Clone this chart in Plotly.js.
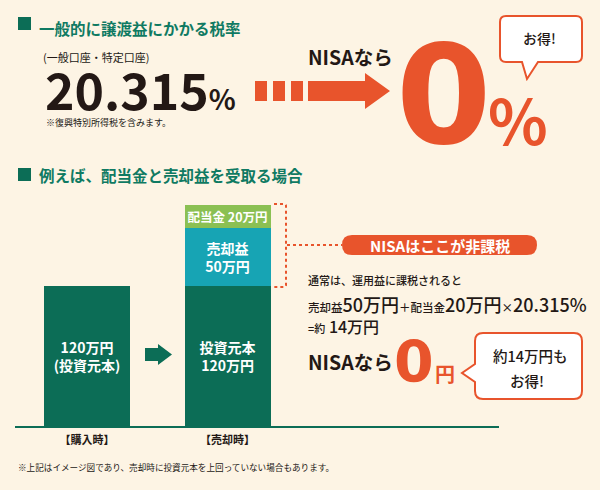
<!DOCTYPE html>
<html>
<head>
<meta charset="utf-8">
<script src="https://cdn.plot.ly/plotly-3.0.1.min.js"></script>
<style>html,body{margin:0;padding:0;background:#fdf4e4;}#chart{width:600px;height:490px;}</style>
</head>
<body>
<div id="chart"></div>
<script>
// ---- data ----
const categories = ['購入時', '売却時'];
const tickLabels = ['【購入時】', '【売却時】'];
const principal = [120, 120];      // 投資元本 (万円)
const capitalGain = [0, 50];       // 売却益 (万円)
const dividend = [0, 20];          // 配当金 (万円)
const principalText = ['120万円<br>(投資元本)', '投資元本<br>120万円'];
const gainText = ['', '売却益<br>50万円'];
const dividendText = ['', '配当金 20万円'];
const taxRate = 20.315;            // %
const nisaRate = 0;                // %

// ---- styling ----
const BG = '#fdf4e4', GREEN = '#0c6d56', GREEN_T = '#0f7a62', TEAL = '#17a4b4', LGREEN = '#8bc053',
      ORANGE = '#e8542c', DARK = '#231815';
const JP = '"Noto Sans CJK JP", "Noto Sans", sans-serif';
const W = 600, H = 490;
const X = x => x / W, Y = y => 1 - y / H;
const P = (x, y) => X(x).toFixed(5) + ',' + Y(y).toFixed(5);
function pathFrom(cmds) {
  return cmds.map(c => {
    if (c[0] === 'Z') return 'Z';
    if (c[0] === 'Q') return 'Q' + P(c[1], c[2]) + ' ' + P(c[3], c[4]);
    return c[0] + P(c[1], c[2]);
  }).join(' ');
}

const taxAmount = Math.round((capitalGain[1] + dividend[1]) * taxRate / 100);

const barCommon = {
  type: 'bar', x: categories, width: [0.612, 0.612],
  textposition: 'inside', insidetextanchor: 'middle', constraintext: 'none', textangle: 0,
  textfont: {family: JP, color: '#ffffff', size: 14, weight: 700},
  hoverinfo: 'skip', showlegend: false
};
const traces = [
  Object.assign({}, barCommon, {name: '投資元本', y: principal, text: principalText, marker: {color: GREEN, line: {width: 0}}}),
  Object.assign({}, barCommon, {name: '売却益', y: capitalGain, text: gainText, marker: {color: TEAL, line: {width: 0}}}),
  Object.assign({}, barCommon, {name: '配当金', y: dividend, text: dividendText, textfont: {family: JP, color: '#ffffff', size: 12.5, weight: 700}, marker: {color: LGREEN, line: {width: 0}}})
];

const shapes = [];
const rect = (x0, y0, x1, y1, color) => shapes.push({type: 'rect', xref: 'paper', yref: 'paper',
  x0: X(x0), x1: X(x1), y0: Y(y1), y1: Y(y0), fillcolor: color, line: {width: 0}, layer: 'above'});
const path = (cmds, fill, line) => shapes.push({type: 'path', xref: 'paper', yref: 'paper', path: pathFrom(cmds),
  fillcolor: fill, line: line || {width: 0}, layer: 'above'});

// section header squares
rect(18, 17, 31, 30, GREEN);
rect(18, 168, 31, 181, GREEN);
// dashed arrow (top)
rect(255, 81, 267, 101, ORANGE);
rect(273, 81, 285, 101, ORANGE);
rect(291, 81, 303, 101, ORANGE);
path([['M', 308, 81], ['L', 365, 81], ['L', 365, 73], ['L', 390, 91], ['L', 365, 109], ['L', 365, 101], ['L', 308, 101], ['Z']], ORANGE);
// top bubble
path([['M', 506, 16], ['L', 576, 16], ['Q', 582, 16, 582, 22], ['L', 582, 56], ['Q', 582, 62, 576, 62],
      ['L', 538, 62], ['L', 527, 79], ['L', 522, 62], ['L', 506, 62], ['Q', 500, 62, 500, 56], ['L', 500, 22],
      ['Q', 500, 16, 506, 16], ['Z']], '#ffffff', {color: ORANGE, width: 2});
// small green arrow between bars
path([['M', 145, 348], ['L', 158, 348], ['L', 158, 344], ['L', 172, 354.5], ['L', 158, 365], ['L', 158, 361], ['L', 145, 361], ['Z']], GREEN);
// dotted bracket
path([['M', 274, 204], ['L', 284, 204], ['Q', 286, 204, 286, 206], ['L', 286, 285], ['Q', 286, 287, 284, 287], ['L', 274, 287]],
     'rgba(0,0,0,0)', {color: ORANGE, width: 2, dash: 'dot'});
path([['M', 287, 245], ['L', 342, 245]], 'rgba(0,0,0,0)', {color: ORANGE, width: 2, dash: 'dot'});
// pill
path([['M', 352, 235], ['L', 527, 235], ['Q', 537, 235, 537, 245], ['Q', 537, 255, 527, 255], ['L', 352, 255],
      ['Q', 342, 255, 342, 245], ['Q', 342, 235, 352, 235], ['Z']], ORANGE);
// bottom bubble
path([['M', 483, 333], ['L', 574, 333], ['Q', 582, 333, 582, 341], ['L', 582, 391], ['Q', 582, 399, 574, 399],
      ['L', 483, 399], ['Q', 475, 399, 475, 391], ['L', 475, 382], ['L', 462, 373], ['L', 475, 364], ['L', 475, 341],
      ['Q', 475, 333, 483, 333], ['Z']], '#ffffff', {color: ORANGE, width: 2});

const annotations = [];
const note = (x, y, text, size, color, opts) => annotations.push(Object.assign({
  xref: 'paper', yref: 'paper', x: X(x), y: Y(y), text: text, showarrow: false,
  xanchor: 'left', yanchor: 'middle', align: 'left'
}, opts || {}, {font: {family: (opts && opts.family) || JP, size: size, color: color, weight: (opts && opts.weight) || 400}}));

note(37, 28, '一般的に譲渡益にかかる税率', 15.5, GREEN_T, {weight: 700});
note(41, 57, '(一般口座・特定口座)', 11, DARK);
note(43, 88, taxRate.toFixed(3) + '<span style="font-size:28px">%</span>', 50, DARK, {weight: 700});
note(44, 122, '※復興特別所得税を含みます。', 9, DARK);
note(306, 56, 'NISAなら', 19.5, DARK, {weight: 700});
note(443, 95, String(nisaRate), 137, ORANGE, {weight: 700, family: '"DejaVu Sans", sans-serif', xanchor: 'center'});
note(518, 118, '%', 62, ORANGE, {weight: 700, xanchor: 'center'});
note(539, 38, 'お得!', 14, DARK, {xanchor: 'center', weight: 500});

note(37, 175, '例えば、配当金と売却益を受取る場合', 15.5, GREEN_T, {weight: 700});
note(439.5, 245, 'NISAはここが非課税', 15, '#ffffff', {weight: 700, xanchor: 'center'});
note(306, 280, '通常は、運用益に課税されると', 11, DARK, {weight: 500});
note(306, 304, '売却益<span style="font-size:18px">' + capitalGain[1] + '万円</span>＋配当金<span style="font-size:18px">' +
     dividend[1] + '万円</span>×<span style="font-size:18px">' + taxRate.toFixed(3) + '%</span>', 11.5, DARK, {weight: 500});
note(306, 326, '=約<span style="font-size:16px"> ' + taxAmount + '万円</span>', 11, DARK, {weight: 500});
note(306, 361, 'NISAなら', 19.5, DARK, {weight: 700});
note(414, 362, '0', 57, ORANGE, {weight: 700, family: '"DejaVu Sans", sans-serif', xanchor: 'center'});
note(445, 373, '円', 20, ORANGE, {weight: 700, xanchor: 'center'});
note(530, 355, '約' + taxAmount + '万円も', 14.5, DARK, {xanchor: 'center', weight: 500});
note(527, 380, 'お得!', 14.5, DARK, {xanchor: 'center', weight: 500});
note(16, 467, '※上記はイメージ図であり、売却時に投資元本を上回っていない場合もあります。', 8.6, DARK);

const layout = {
  width: W, height: H, margin: {l: 0, r: 0, t: 0, b: 0, pad: 0},
  paper_bgcolor: BG, plot_bgcolor: 'rgba(0,0,0,0)',
  barmode: 'stack', bargap: 0,
  font: {family: JP, color: DARK},
  xaxis: {domain: [X(15), X(499)], type: 'category', range: [-0.5125, 2.932], fixedrange: true,
          tickvals: categories, ticktext: tickLabels, showgrid: false, zeroline: false,
          showline: true, linecolor: GREEN, linewidth: 2, ticks: '', ticklabelstandoff: 3,
          tickfont: {family: JP, size: 11, color: DARK, weight: 700}},
  yaxis: {domain: [Y(426), Y(200)], range: [0, 194], visible: false, fixedrange: true},
  shapes: shapes, annotations: annotations, showlegend: false
};
Plotly.newPlot('chart', traces, layout, {displayModeBar: false, staticPlot: true});
</script>
</body>
</html>
